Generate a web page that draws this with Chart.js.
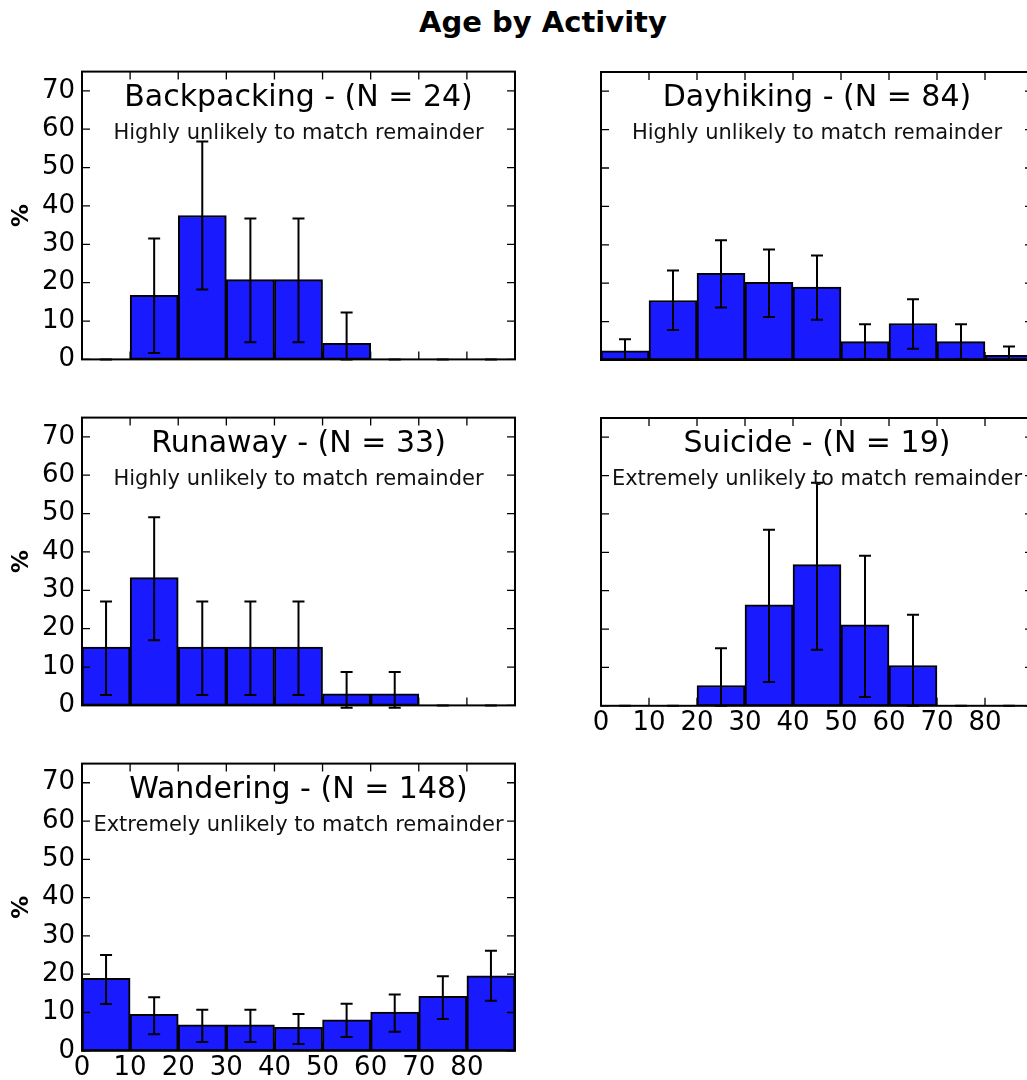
<!DOCTYPE html>
<html>
<head>
<meta charset="utf-8">
<script src="https://cdn.jsdelivr.net/npm/chart.js@4.4.1/dist/chart.umd.min.js"></script>
<style>
    html, body { margin: 0; padding: 0; background: #fff; overflow: hidden; width: 1027px; height: 1080px; }
    #main-title { position: absolute; left: 0; top: 5px; width: 1086px; text-align: center;
        font: bold 29px "DejaVu Sans"; line-height: 34px; color: #000; }
    canvas { position: absolute; }
</style>
</head>
<body>
<div id="main-title">Age by Activity</div>
<script>
// --- DATA (percent of cases per 10-year age bin, with error bar ends) ---
const binStarts = [0, 10, 20, 30, 40, 50, 60, 70, 80];
const binWidth = 10;
const xTicks = [0, 10, 20, 30, 40, 50, 60, 70, 80];
const yTicks = [0, 10, 20, 30, 40, 50, 60, 70];

const backpackingPct  = [0, 16.7, 37.5, 20.8, 20.8, 4.2, 0, 0, 0];
const backpackingLow  = [0, 1.7, 18.2, 4.5, 4.5, 0, 0, 0, 0];
const backpackingHigh = [0, 31.5, 56.8, 36.7, 36.7, 12.2, 0, 0, 0];

const dayhikingPct  = [2.4, 15.5, 22.6, 20.2, 19.0, 4.8, 9.5, 4.8, 1.2];
const dayhikingLow  = [0, 7.8, 13.7, 11.2, 10.5, 0.2, 2.9, 0.2, 0];
const dayhikingHigh = [5.4, 23.3, 31.2, 28.8, 27.2, 9.3, 15.8, 9.3, 3.5];

const runawayPct  = [15.2, 33.3, 15.2, 15.2, 15.2, 3.0, 3.0, 0, 0];
const runawayLow  = [2.7, 17.0, 2.7, 2.7, 2.7, -0.6, -0.6, 0, 0];
const runawayHigh = [27.1, 49.0, 27.1, 27.1, 27.1, 8.7, 8.7, 0, 0];

const suicidePct  = [0, 0, 5.3, 26.3, 36.8, 21.1, 10.5, 0, 0];
const suicideLow  = [0, 0, 0, 6.2, 14.6, 2.3, 0, 0, 0];
const suicideHigh = [0, 0, 15.0, 45.9, 58.1, 39.1, 23.7, 0, 0];

const wanderingPct  = [18.9, 9.5, 6.8, 6.8, 6.1, 8.1, 10.1, 14.2, 19.6];
const wanderingLow  = [12.2, 4.3, 2.3, 2.3, 1.8, 3.6, 5.0, 8.3, 13.1];
const wanderingHigh = [25.0, 14.0, 10.7, 10.7, 9.6, 12.3, 14.7, 19.5, 26.1];

const panels = [
    { key: 'backpacking', name: 'Backpacking', n: 24, note: 'Highly unlikely to match remainder',
      pct: backpackingPct, low: backpackingLow, high: backpackingHigh, col: 0, row: 0, xLabels: false },
    { key: 'dayhiking', name: 'Dayhiking', n: 84, note: 'Highly unlikely to match remainder',
      pct: dayhikingPct, low: dayhikingLow, high: dayhikingHigh, col: 1, row: 0, xLabels: false },
    { key: 'runaway', name: 'Runaway', n: 33, note: 'Highly unlikely to match remainder',
      pct: runawayPct, low: runawayLow, high: runawayHigh, col: 0, row: 1, xLabels: false },
    { key: 'suicide', name: 'Suicide', n: 19, note: 'Extremely unlikely to match remainder',
      pct: suicidePct, low: suicideLow, high: suicideHigh, col: 1, row: 1, xLabels: true },
    { key: 'wandering', name: 'Wandering', n: 148, note: 'Extremely unlikely to match remainder',
      pct: wanderingPct, low: wanderingLow, high: wanderingHigh, col: 0, row: 2, xLabels: true }
];

// --- LAYOUT (plot box edges in page pixels) ---
const FONT = '"DejaVu Sans"';
const colLeft = [82, 601];
const colRight = [515, 1033];
const rowTop = [72, 418, 764];
const rowBottom = [360, 706, 1052];
Chart.defaults.font.family = FONT;
Chart.defaults.color = '#000';

// Draws error bars, the boxed frame with inward ticks and the in-plot titles
const panelDecor = {
    id: 'panelDecor',
    afterDatasetsDraw(chart, args, opts) {
        const { ctx, chartArea: a, scales: { x, y } } = chart;
        ctx.save();

        // error bars
        ctx.strokeStyle = '#000';
        ctx.lineWidth = 2;
        binStarts.forEach((b, i) => {
            const cx = x.getPixelForValue(b + binWidth / 2);
            const yl = y.getPixelForValue(opts.low[i]);
            const yh = y.getPixelForValue(opts.high[i]);
            ctx.beginPath();
            ctx.moveTo(cx, yl); ctx.lineTo(cx, yh);
            ctx.moveTo(cx - 6, yl); ctx.lineTo(cx + 6, yl);
            ctx.moveTo(cx - 6, yh); ctx.lineTo(cx + 6, yh);
            ctx.stroke();
        });

        // titles inside the box
        const mid = (a.left + a.right) / 2;
        ctx.fillStyle = '#000';
        ctx.textAlign = 'center';
        ctx.textBaseline = 'alphabetic';
        ctx.font = '30px ' + FONT;
        ctx.fillText(opts.title, mid, a.top + 34);
        ctx.fillStyle = '#111';
        ctx.font = '21px ' + FONT;
        ctx.fillText(opts.note, mid, a.top + 67);

        // frame
        ctx.strokeStyle = '#000';
        ctx.lineWidth = 2;
        ctx.strokeRect(a.left, a.top, a.right - a.left, a.bottom - a.top);

        // inward ticks on all four sides
        ctx.lineWidth = 1.3;
        ctx.beginPath();
        yTicks.forEach(v => {
            const py = y.getPixelForValue(v);
            ctx.moveTo(a.left, py); ctx.lineTo(a.left + 8, py);
            ctx.moveTo(a.right, py); ctx.lineTo(a.right - 8, py);
        });
        xTicks.forEach(v => {
            const px = x.getPixelForValue(v);
            ctx.moveTo(px, a.top); ctx.lineTo(px, a.top + 8);
            ctx.moveTo(px, a.bottom); ctx.lineTo(px, a.bottom - 8);
        });
        ctx.stroke();
        ctx.restore();
    }
};

function panelConfig(p) {
    const xScale = {
        type: 'linear',
        min: 0,
        max: 90,
        offset: false,
        display: p.xLabels,
        grid: { display: false, drawTicks: false },
        border: { display: false },
        afterBuildTicks: s => { s.ticks = xTicks.map(v => ({ value: v })); },
        ticks: { font: { size: 26 }, padding: 2, maxRotation: 0, autoSkip: false, color: '#000' }
    };
    const yScale = {
        min: 0,
        max: 75,
        display: p.col === 0,
        grid: { display: false, drawTicks: false },
        border: { display: false },
        afterBuildTicks: s => { s.ticks = yTicks.map(v => ({ value: v })); },
        ticks: { font: { size: 26 }, padding: 7, autoSkip: false, color: '#000' },
        title: { display: true, text: '%', font: { size: 23, weight: 'bold' }, padding: { top: 8, bottom: 0 }, color: '#000' }
    };
    if (p.col === 0) yScale.afterFit = s => { s.width = 82; };

    return {
        type: 'bar',
        data: {
            datasets: [{
                data: binStarts.map((b, i) => ({ x: b + binWidth / 2, y: p.pct[i] })),
                backgroundColor: '#1a1aff',
                borderColor: '#000',
                borderWidth: 2,
                borderSkipped: false,
                barPercentage: 1,
                categoryPercentage: 1
            }]
        },
        options: {
            responsive: false,
            animation: false,
            layout: { padding: { top: 10, bottom: 10, left: p.col === 0 ? 0 : 20, right: 10 } },
            plugins: {
                legend: { display: false },
                tooltip: { enabled: false },
                panelDecor: {
                    title: `${p.name} - (N = ${p.n})`,
                    note: p.note,
                    low: p.low,
                    high: p.high
                }
            },
            scales: { x: xScale, y: yScale }
        },
        plugins: [panelDecor]
    };
}

function newCanvas(w, h) {
    const c = document.createElement('canvas');
    c.width = w;
    c.height = h;
    document.body.appendChild(c);
    return c;
}

function makePanel(p) {
    const wantW = colRight[p.col] - colLeft[p.col];
    const wantH = rowBottom[p.row] - rowTop[p.row];

    // first pass: measure how much room the axes take
    let w = wantW + 120, h = wantH + 60;
    const probe = newCanvas(w, h);
    const tmp = new Chart(probe, panelConfig(p));
    const a = tmp.chartArea;
    w += wantW - (a.right - a.left);
    h += wantH - (a.bottom - a.top);
    tmp.destroy();
    probe.remove();

    // second pass: sized so the plot box lands exactly where it should
    const canvas = newCanvas(w, h);
    const chart = new Chart(canvas, panelConfig(p));
    const b = chart.chartArea;
    canvas.style.left = (colLeft[p.col] - b.left) + 'px';
    canvas.style.top = (rowTop[p.row] - b.top) + 'px';
}

panels.forEach(makePanel);
</script>
</body>
</html>
